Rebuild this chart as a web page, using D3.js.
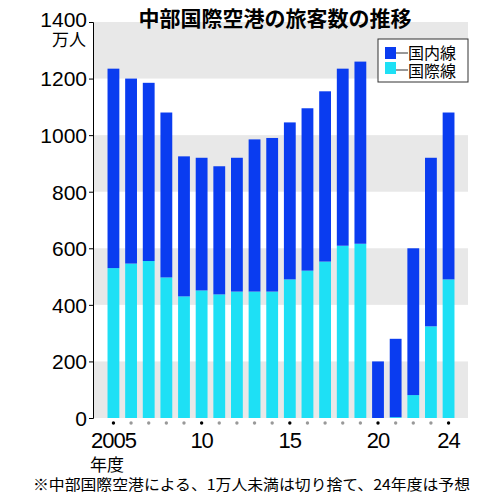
<!DOCTYPE html>
<html><head><meta charset="utf-8">
<script src="https://cdn.jsdelivr.net/npm/d3@7"></script>
<style>body{margin:0;background:#fff;font-family:"Noto Sans CJK JP",sans-serif}</style>
</head><body><svg id="c" width="500" height="500"></svg>
<script>
var years = d3.range(2005, 2025);
var domestic = [705, 654, 630, 583, 495, 469, 453, 473, 538, 543, 555, 574, 602, 626, 644, 200, 277, 519, 596, 590];
var international = [530, 546, 555, 497, 430, 451, 437, 447, 447, 447, 490, 521, 553, 609, 616, 0, 3, 81, 324, 490];
var yTicks = [0, 200, 400, 600, 800, 1000, 1200, 1400];
var labeled = {2005: '2005', 2010: '10', 2015: '15', 2020: '20', 2024: '24'};

var svg = d3.select('#c');
var x = d3.scaleBand().domain(years).range([104, 458]).paddingInner(0.33).paddingOuter(0.2);
var y = d3.scaleLinear().domain([0, 1400]).range([418, 22]);
var num = 'Liberation Sans Narrow, Liberation Sans, sans-serif';

// bands
for (var i = 0; i < yTicks.length - 1; i += 2) {
  svg.append('rect').attr('x', 93).attr('width', 375)
    .attr('y', y(yTicks[i + 1])).attr('height', y(yTicks[i]) - y(yTicks[i + 1])).attr('fill', '#e8e8e8');
}
// axis
var ax = svg.append('g').attr('transform', 'translate(93,0)')
  .call(d3.axisLeft(y).tickValues(yTicks).tickFormat(d3.format('d')).tickSize(4).tickPadding(2));
ax.select('.domain').attr('stroke', '#000');
ax.selectAll('text').attr('font-size', 21).attr('font-family', num).attr('dy', '0.35em');
ax.selectAll('.tick').filter(function (d) { return d === 1400; }).select('text').attr('dy', '0.2em');
svg.append('text').attr('x', 52).attr('y', 46).attr('font-size', 17).text('万人');

var g = svg.append('g');
g.selectAll('.i').data(years).enter().append('rect')
  .attr('x', function (d) { return x(d); }).attr('width', x.bandwidth())
  .attr('y', function (d, i) { return y(international[i]); })
  .attr('height', function (d, i) { return y(0) - y(international[i]); })
  .attr('fill', '#1ee0f5');
g.selectAll('.d').data(years).enter().append('rect')
  .attr('x', function (d) { return x(d); }).attr('width', x.bandwidth())
  .attr('y', function (d, i) { return y(international[i] + domestic[i]); })
  .attr('height', function (d, i) { return y(0) - y(domestic[i]); })
  .attr('fill', '#0a3cf0');

svg.selectAll('.dot').data(years).enter().append('circle')
  .attr('cx', function (d) { return x(d) + x.bandwidth() / 2; }).attr('cy', 423).attr('r', 1.7)
  .attr('fill', function (d) { return labeled[d] ? '#000' : '#999'; });
svg.selectAll('.yl').data(years.filter(function (d) { return labeled[d]; })).enter().append('text')
  .attr('x', function (d) { return x(d) + x.bandwidth() / 2; }).attr('y', 448)
  .attr('text-anchor', 'middle').attr('font-size', 22).attr('letter-spacing', -1)
  .attr('font-family', num)
  .text(function (d) { return labeled[d]; });
svg.append('text').attr('x', 90).attr('y', 471).attr('font-size', 17).text('年度');

svg.append('text').attr('x', 275).attr('y', 26).attr('text-anchor', 'middle')
  .attr('font-size', 21).attr('font-weight', 'bold').text('中部国際空港の旅客数の推移');

var lg = svg.append('g');
lg.append('rect').attr('x', 378).attr('y', 39).attr('width', 90).attr('height', 43).attr('fill', '#fff').attr('stroke', '#333');
[['国内線', '#0a3cf0'], ['国際線', '#1ee0f5']].forEach(function (e, i) {
  lg.append('rect').attr('x', 385).attr('y', 47 + i * 15).attr('width', 11).attr('height', 12).attr('fill', e[1]);
  lg.append('line').attr('x1', 396).attr('x2', 408).attr('y1', 53 + i * 17).attr('y2', 53 + i * 17).attr('stroke', '#333');
  lg.append('text').attr('x', 408).attr('y', 59 + i * 18).attr('font-size', 16).text(e[0]);
});

svg.append('text').attr('x', 33).attr('y', 490).attr('font-size', 15)
  .attr('textLength', 437).attr('lengthAdjust', 'spacingAndGlyphs')
  .text('※中部国際空港による、1万人未満は切り捨て、24年度は予想');
</script></body></html>
